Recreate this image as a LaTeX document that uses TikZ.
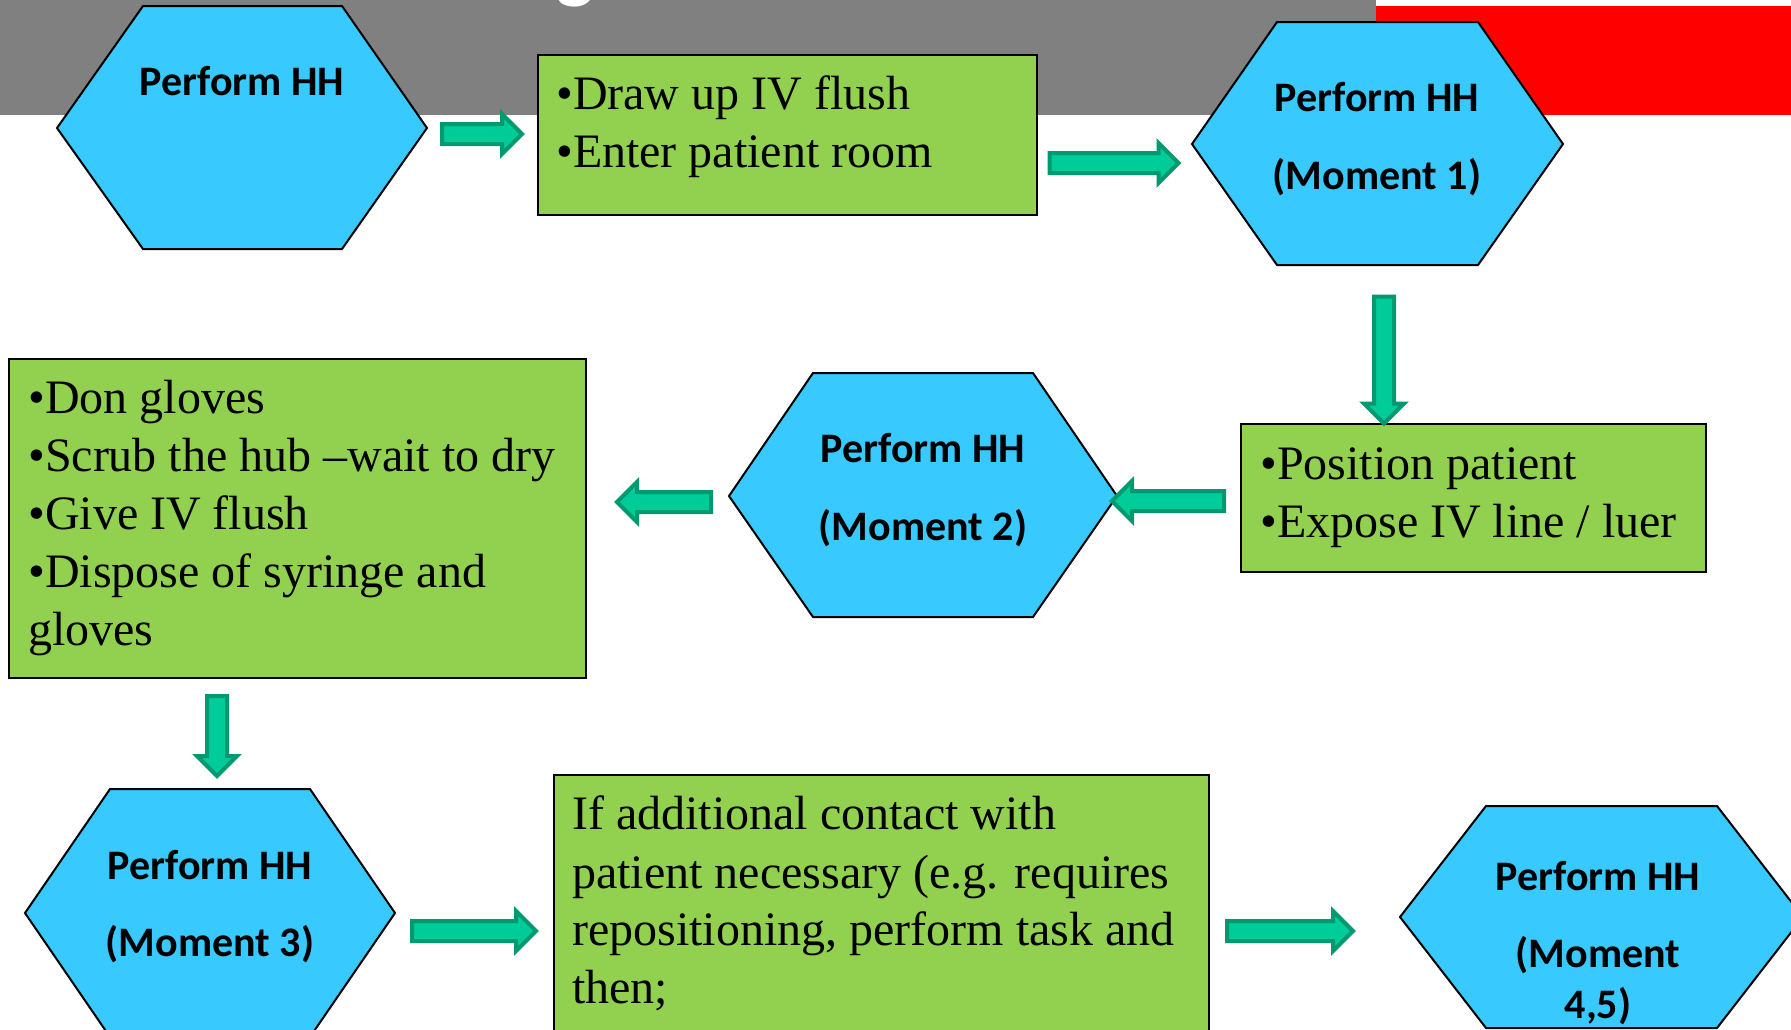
\documentclass[tikz,border=0pt]{standalone}
\usepackage{fontspec}
\setmainfont{Liberation Serif}
\newfontfamily\hexfont{Carlito}
\usetikzlibrary{shapes.arrows}
\definecolor{hexblue}{RGB}{56,201,255}
\definecolor{boxgreen}{RGB}{146,208,80}
\definecolor{arrfill}{RGB}{0,204,153}
\definecolor{arrline}{RGB}{0,153,112}
\definecolor{bandgray}{RGB}{128,128,128}
\begin{document}
\begin{tikzpicture}[x=1pt,y=-1pt,
  hexs/.style={fill=hexblue,draw=black,line width=2pt,line join=miter},
  boxs/.style={rectangle,fill=boxgreen,draw=black,line width=2pt,inner sep=0pt,anchor=north west},
  hext/.style={font=\hexfont\bfseries\fontsize{42}{50}\selectfont,anchor=base,inner sep=0pt},
  boxt/.style={font=\fontsize{48}{58}\selectfont,anchor=base west,inner sep=0pt},
  barrow/.style={single arrow,fill=arrfill,draw=arrline,line width=4pt,
    inner xsep=0pt,inner ysep=8pt,single arrow head extend=10pt,
    minimum width=0pt,text height=0pt,text depth=0pt},
  varrow/.style={barrow,inner xsep=8pt,inner ysep=0pt,shape border rotate=270}
]
\useasboundingbox (0,0) rectangle (1791,1029);
% header band
\fill[bandgray] (0,0) rectangle (1376,115);
\fill[red] (1376,6) rectangle (1791,115);
\node[font=\hexfont\bfseries\fontsize{80}{80}\selectfont,text=white,anchor=base,inner sep=0pt] (title) at (575,-7) {g};

% hexagons
\draw[hexs] (57,128) -- (143,6) -- (342,6) -- (427,128) -- (342,249) -- (143,249) -- cycle;
\draw[hexs] (1192,144) -- (1277,22) -- (1478,22) -- (1563,144) -- (1478,265) -- (1277,265) -- cycle;
\draw[hexs] (729,496) -- (813,373) -- (1033,373) -- (1117,496) -- (1033,617) -- (813,617) -- cycle;
\draw[hexs] (25,913) -- (110,789) -- (310,789) -- (395,913) -- (310,1037) -- (110,1037) -- cycle;
\draw[hexs] (1400,917) -- (1486,806) -- (1717,806) -- (1803,917) -- (1717,1028) -- (1486,1028) -- cycle;

\node[hext] (h1a) at (242,95) {Perform HH};
\node[hext] (h2a) at (1377,111) {Perform HH};
\node[hext] (h2b) at (1377,189) {(Moment 1)};
\node[hext] (h3a) at (923,462) {Perform HH};
\node[hext] (h3b) at (923,540) {(Moment 2)};
\node[hext] (h4a) at (210,879) {Perform HH};
\node[hext] (h4b) at (210,956) {(Moment 3)};
\node[hext] (h5a) at (1598,890) {Perform HH};
\node[hext] (h5b) at (1598,967) {(Moment};
\node[hext] (h5c) at (1598,1018) {4,5)};

% boxes
\node[boxs,minimum width=499pt,minimum height=160pt] (b1) at (537,54) {};
\node[boxt] (b1a) at (556,109) {•Draw up IV flush};
\node[boxt] (b1b) at (556,167) {•Enter patient room};

\node[boxs,minimum width=465pt,minimum height=148pt] (b2) at (1240,423) {};
\node[boxt] (b2a) at (1260,479) {•Position patient};
\node[boxt] (b2b) at (1260,537) {•Expose IV line / luer};

\node[boxs,minimum width=577pt,minimum height=319pt] (b3) at (8,358) {};
\node[boxt] (b3a) at (28,413) {•Don gloves};
\node[boxt] (b3b) at (28,471) {•Scrub the hub –wait to dry};
\node[boxt] (b3c) at (28,529) {•Give IV flush};
\node[boxt] (b3d) at (28,587) {•Dispose of syringe and};
\node[boxt] (b3e) at (28,645) {gloves};

\node[boxs,minimum width=655pt,minimum height=270pt] (b4) at (553,774) {};
\node[boxt] (b4a) at (572,829) {If additional contact with};
\node[boxt] (b4b) at (572,888) {patient necessary (e.g. requires};
\node[boxt] (b4c) at (572,945) {repositioning, perform task and};
\node[boxt] (b4d) at (572,1003) {then;};

% block arrows
\node[barrow,minimum height=80pt] (a1) at (477,134) {};
\node[barrow,minimum height=129pt] (a2) at (1109,163) {};
\node[varrow,minimum height=127pt] (a3) at (1384,355) {};
\node[barrow,minimum height=112pt,shape border rotate=180] (a4) at (1173,501) {};
\node[barrow,minimum height=94pt,shape border rotate=180] (a5) at (669,502) {};
\node[varrow,minimum height=80pt] (a6) at (217,731) {};
\node[barrow,minimum height=124pt] (a7) at (469,931) {};
\node[barrow,minimum height=126pt] (a8) at (1285,931) {};
\end{tikzpicture}
\end{document}
